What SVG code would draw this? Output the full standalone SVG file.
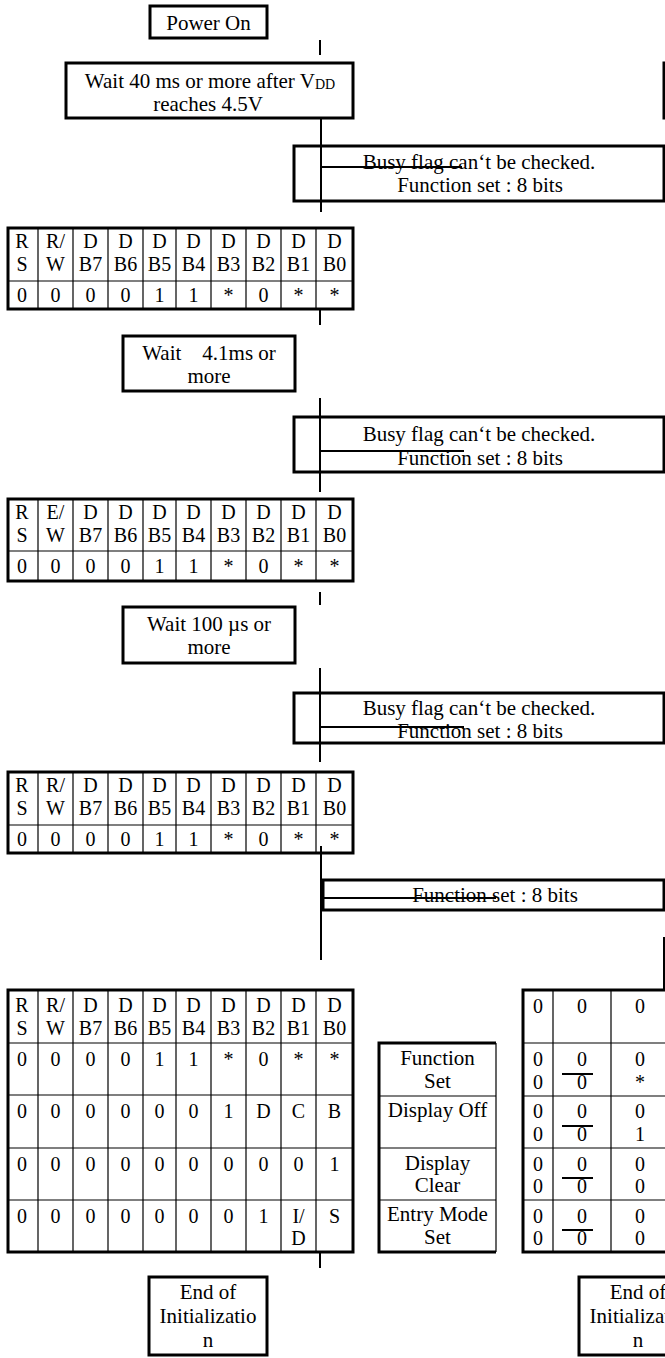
<svg xmlns="http://www.w3.org/2000/svg" width="665" height="1358" viewBox="0 0 665 1358">
<style>
text { font-family: "Liberation Serif", "Times New Roman", serif; font-size: 21px; fill: #000; text-anchor: middle; }
.cell text { font-size: 20px; }
.box { fill: #fff; stroke: #000; stroke-width: 3; }
.tbl { fill: #fff; stroke: #000; stroke-width: 3; }
.grid { stroke: #000; stroke-width: 1.2; fill: none; }
.conn { stroke: #000; stroke-width: 2; fill: none; }
.bar { stroke: #000; stroke-width: 2; }
.pre { white-space: pre; }
.sub { font-size: 14px; }
</style>
<rect width="665" height="1358" fill="#fff"/>

<g id="power-on">
<rect class="box" x="150" y="6" width="117" height="32"/>
<text x="208.5" y="30">Power On</text>
</g>

<g id="wait-40ms">
<rect class="box" x="66" y="63" width="287" height="55"/>
<text x="210" y="88">Wait 40 ms or more after V<tspan class="sub" dy="1">DD</tspan></text>
<text x="208" y="111">reaches 4.5V</text>
</g>

<g id="wait-40ms-right">
<rect class="box" x="664" y="63" width="200" height="55"/>
</g>

<g id="busy-1">
<rect class="box" x="294" y="146" width="370" height="55"/>
<text x="479" y="169">Busy flag can‘t be checked.</text>
<text x="480" y="192">Function set : 8 bits</text>
</g>

<g id="table-1" class="cell" transform="translate(0,228)">
<rect class="tbl" x="8" y="0" width="345" height="81"/>
<path class="grid" d="M8 53H353M38 0V81M73 0V81M108 0V81M143 0V81M176 0V81M211 0V81M246 0V81M281 0V81M316 0V81"/>
<text y="20"><tspan x="22">R</tspan><tspan x="55.5">R/</tspan><tspan x="90.5">D</tspan><tspan x="125.5">D</tspan><tspan x="159.5">D</tspan><tspan x="193.5">D</tspan><tspan x="228.5">D</tspan><tspan x="263.5">D</tspan><tspan x="298.5">D</tspan><tspan x="334.5">D</tspan></text>
<text y="43"><tspan x="22">S</tspan><tspan x="55.5">W</tspan><tspan x="90.5">B7</tspan><tspan x="125.5">B6</tspan><tspan x="159.5">B5</tspan><tspan x="193.5">B4</tspan><tspan x="228.5">B3</tspan><tspan x="263.5">B2</tspan><tspan x="298.5">B1</tspan><tspan x="334.5">B0</tspan></text>
<text y="74"><tspan x="22">0</tspan><tspan x="55.5">0</tspan><tspan x="90.5">0</tspan><tspan x="125.5">0</tspan><tspan x="159.5">1</tspan><tspan x="193.5">1</tspan><tspan x="228.5">*</tspan><tspan x="263.5">0</tspan><tspan x="298.5">*</tspan><tspan x="334.5">*</tspan></text>
</g>

<g id="wait-4ms">
<rect class="box" x="123" y="336" width="172" height="55"/>
<text class="pre" x="209" y="360">Wait    4.1ms or</text>
<text x="209" y="383">more</text>
</g>

<g id="busy-2">
<rect class="box" x="294" y="417" width="370" height="55"/>
<text x="479" y="441">Busy flag can‘t be checked.</text>
<text x="480" y="465">Function set : 8 bits</text>
</g>

<g id="table-2" class="cell" transform="translate(0,499)">
<rect class="tbl" x="8" y="0" width="345" height="82"/>
<path class="grid" d="M8 52H353M38 0V82M73 0V82M108 0V82M143 0V82M176 0V82M211 0V82M246 0V82M281 0V82M316 0V82"/>
<text y="20"><tspan x="22">R</tspan><tspan x="55.5">E/</tspan><tspan x="90.5">D</tspan><tspan x="125.5">D</tspan><tspan x="159.5">D</tspan><tspan x="193.5">D</tspan><tspan x="228.5">D</tspan><tspan x="263.5">D</tspan><tspan x="298.5">D</tspan><tspan x="334.5">D</tspan></text>
<text y="43"><tspan x="22">S</tspan><tspan x="55.5">W</tspan><tspan x="90.5">B7</tspan><tspan x="125.5">B6</tspan><tspan x="159.5">B5</tspan><tspan x="193.5">B4</tspan><tspan x="228.5">B3</tspan><tspan x="263.5">B2</tspan><tspan x="298.5">B1</tspan><tspan x="334.5">B0</tspan></text>
<text y="74"><tspan x="22">0</tspan><tspan x="55.5">0</tspan><tspan x="90.5">0</tspan><tspan x="125.5">0</tspan><tspan x="159.5">1</tspan><tspan x="193.5">1</tspan><tspan x="228.5">*</tspan><tspan x="263.5">0</tspan><tspan x="298.5">*</tspan><tspan x="334.5">*</tspan></text>
</g>

<g id="wait-100us">
<rect class="box" x="123" y="607" width="172" height="56"/>
<text x="209" y="631">Wait 100 µs or</text>
<text x="209" y="654">more</text>
</g>

<g id="busy-3">
<rect class="box" x="294" y="693" width="370" height="50"/>
<text x="479" y="715">Busy flag can‘t be checked.</text>
<text x="480" y="738">Function set : 8 bits</text>
</g>

<g id="table-3" class="cell" transform="translate(0,772)">
<rect class="tbl" x="8" y="0" width="345" height="81"/>
<path class="grid" d="M8 53H353M38 0V81M73 0V81M108 0V81M143 0V81M176 0V81M211 0V81M246 0V81M281 0V81M316 0V81"/>
<text y="20"><tspan x="22">R</tspan><tspan x="55.5">R/</tspan><tspan x="90.5">D</tspan><tspan x="125.5">D</tspan><tspan x="159.5">D</tspan><tspan x="193.5">D</tspan><tspan x="228.5">D</tspan><tspan x="263.5">D</tspan><tspan x="298.5">D</tspan><tspan x="334.5">D</tspan></text>
<text y="43"><tspan x="22">S</tspan><tspan x="55.5">W</tspan><tspan x="90.5">B7</tspan><tspan x="125.5">B6</tspan><tspan x="159.5">B5</tspan><tspan x="193.5">B4</tspan><tspan x="228.5">B3</tspan><tspan x="263.5">B2</tspan><tspan x="298.5">B1</tspan><tspan x="334.5">B0</tspan></text>
<text y="74"><tspan x="22">0</tspan><tspan x="55.5">0</tspan><tspan x="90.5">0</tspan><tspan x="125.5">0</tspan><tspan x="159.5">1</tspan><tspan x="193.5">1</tspan><tspan x="228.5">*</tspan><tspan x="263.5">0</tspan><tspan x="298.5">*</tspan><tspan x="334.5">*</tspan></text>
</g>

<g id="function-set-4">
<rect class="box" x="323" y="880" width="341" height="30"/>
<text x="495" y="902">Function set : 8 bits</text>
</g>

<g id="table-4" class="cell" transform="translate(0,990)">
<rect class="tbl" x="8" y="0" width="345" height="262"/>
<path class="grid" d="M8 53H353M8 105H353M8 158H353M8 210H353M38 0V262M73 0V262M108 0V262M143 0V262M176 0V262M211 0V262M246 0V262M281 0V262M316 0V262"/>
<text y="22"><tspan x="22">R</tspan><tspan x="55.5">R/</tspan><tspan x="90.5">D</tspan><tspan x="125.5">D</tspan><tspan x="159.5">D</tspan><tspan x="193.5">D</tspan><tspan x="228.5">D</tspan><tspan x="263.5">D</tspan><tspan x="298.5">D</tspan><tspan x="334.5">D</tspan></text>
<text y="45"><tspan x="22">S</tspan><tspan x="55.5">W</tspan><tspan x="90.5">B7</tspan><tspan x="125.5">B6</tspan><tspan x="159.5">B5</tspan><tspan x="193.5">B4</tspan><tspan x="228.5">B3</tspan><tspan x="263.5">B2</tspan><tspan x="298.5">B1</tspan><tspan x="334.5">B0</tspan></text>
<text y="76"><tspan x="22">0</tspan><tspan x="55.5">0</tspan><tspan x="90.5">0</tspan><tspan x="125.5">0</tspan><tspan x="159.5">1</tspan><tspan x="193.5">1</tspan><tspan x="228.5">*</tspan><tspan x="263.5">0</tspan><tspan x="298.5">*</tspan><tspan x="334.5">*</tspan></text>
<text y="128"><tspan x="22">0</tspan><tspan x="55.5">0</tspan><tspan x="90.5">0</tspan><tspan x="125.5">0</tspan><tspan x="159.5">0</tspan><tspan x="193.5">0</tspan><tspan x="228.5">1</tspan><tspan x="263.5">D</tspan><tspan x="298.5">C</tspan><tspan x="334.5">B</tspan></text>
<text y="181"><tspan x="22">0</tspan><tspan x="55.5">0</tspan><tspan x="90.5">0</tspan><tspan x="125.5">0</tspan><tspan x="159.5">0</tspan><tspan x="193.5">0</tspan><tspan x="228.5">0</tspan><tspan x="263.5">0</tspan><tspan x="298.5">0</tspan><tspan x="334.5">1</tspan></text>
<text y="233"><tspan x="22">0</tspan><tspan x="55.5">0</tspan><tspan x="90.5">0</tspan><tspan x="125.5">0</tspan><tspan x="159.5">0</tspan><tspan x="193.5">0</tspan><tspan x="228.5">0</tspan><tspan x="263.5">1</tspan><tspan x="298.5">I/</tspan><tspan x="334.5">S</tspan></text>
<text x="298.5" y="255">D</text>
</g>

<g id="command-names">
<rect fill="#fff" x="379" y="1043" width="117" height="209"/>
<path class="grid" d="M379 1096H496M379 1148H496M379 1200H496M496 1043V1252"/>
<path stroke="#000" stroke-width="3" fill="none" d="M496 1043H379V1252H496"/>
<text x="437.5" y="1065">Function</text>
<text x="437.5" y="1088">Set</text>
<text x="437.5" y="1117">Display Off</text>
<text x="437.5" y="1170">Display</text>
<text x="437.5" y="1192">Clear</text>
<text x="437.5" y="1221">Entry Mode</text>
<text x="437.5" y="1244">Set</text>
</g>

<g id="table-right" class="cell">
<rect class="tbl" x="523" y="990" width="300" height="262"/>
<path class="grid" d="M523 1043H665M523 1096H665M523 1148H665M523 1200H665M553 990V1252M611 990V1252"/>
<text y="1013"><tspan x="538">0</tspan><tspan x="582">0</tspan><tspan x="640">0</tspan></text>
<text y="1066"><tspan x="538">0</tspan><tspan x="582">0</tspan><tspan x="640">0</tspan></text>
<text y="1089"><tspan x="538">0</tspan><tspan x="582">0</tspan><tspan x="640">*</tspan></text>
<text y="1118"><tspan x="538">0</tspan><tspan x="582">0</tspan><tspan x="640">0</tspan></text>
<text y="1141"><tspan x="538">0</tspan><tspan x="582">0</tspan><tspan x="640">1</tspan></text>
<text y="1171"><tspan x="538">0</tspan><tspan x="582">0</tspan><tspan x="640">0</tspan></text>
<text y="1193"><tspan x="538">0</tspan><tspan x="582">0</tspan><tspan x="640">0</tspan></text>
<text y="1223"><tspan x="538">0</tspan><tspan x="582">0</tspan><tspan x="640">0</tspan></text>
<text y="1245"><tspan x="538">0</tspan><tspan x="582">0</tspan><tspan x="640">0</tspan></text>
<path class="bar" d="M562 1074H593M562 1126H593M562 1178H593M562 1230H593"/>
</g>

<g id="end-left">
<rect class="box" x="149" y="1277" width="118" height="78"/>
<text x="208" y="1299">End of</text>
<text x="208" y="1323">Initializatio</text>
<text x="208" y="1347">n</text>
</g>

<g id="end-right">
<rect class="box" x="579" y="1277" width="118" height="78"/>
<text x="638" y="1299">End of</text>
<text x="638" y="1323">Initializatio</text>
<text x="638" y="1347">n</text>
</g>

<g id="connectors" class="conn">
<path d="M320 40V55"/>
<path d="M321 118V212"/>
<path d="M321 167H462"/>
<path d="M320 310V325"/>
<path d="M320 398V492"/>
<path d="M320 451H464"/>
<path d="M320 592V605"/>
<path d="M320 668V762"/>
<path d="M320 727H464"/>
<path d="M321 846V960"/>
<path d="M321 898H496"/>
<path d="M664 937V990"/>
<path d="M320 1253V1268"/>
</g>
</svg>
